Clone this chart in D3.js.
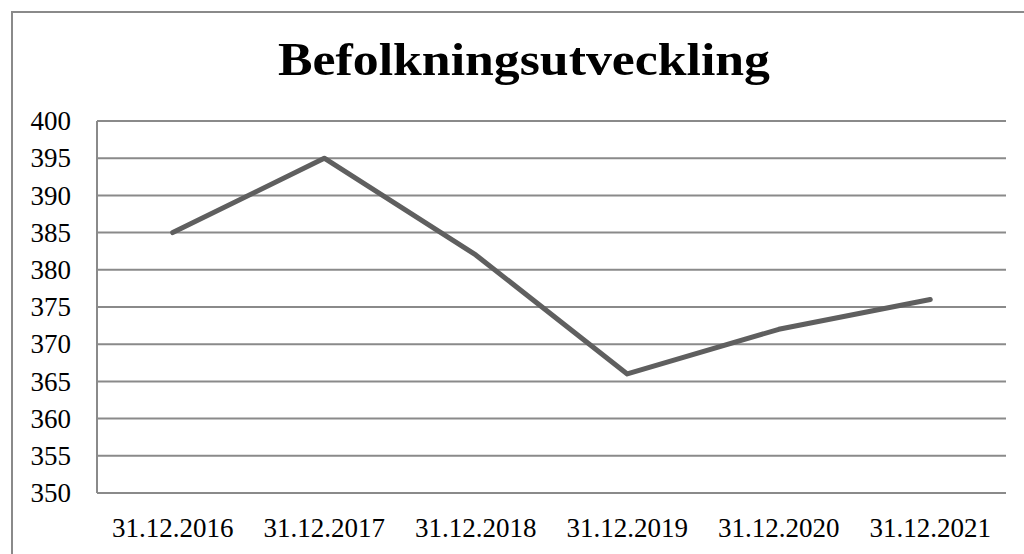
<!DOCTYPE html>
<html>
<head>
<meta charset="utf-8">
<script src="https://cdn.jsdelivr.net/npm/d3@7"></script>
<style>
  html, body { margin: 0; padding: 0; background: #fff; }
  svg { display: block; }
</style>
</head>
<body>
<div class="chart"></div>
<script>
const title = "Befolkningsutveckling";
const categories = ["31.12.2016", "31.12.2017", "31.12.2018", "31.12.2019", "31.12.2020", "31.12.2021"];
const values = [385, 395, 382, 366, 372, 376];
const yTicks = [350, 355, 360, 365, 370, 375, 380, 385, 390, 395, 400];

const dimensions = {
  width: 1024,
  height: 554,
  margin: { left: 97, right: 18, top: 121, bottom: 61 }
};

const fontFamily = "'Liberation Serif', 'Times New Roman', serif";

const svg = d3.select(".chart").append("svg")
  .attr("width", dimensions.width)
  .attr("height", dimensions.height);

// outer frame (runs off the right and bottom edge)
svg.append("path")
  .attr("d", "M12,600 V12 H1030")
  .attr("fill", "none")
  .attr("stroke", "#8a8a8a")
  .attr("stroke-width", 2);

svg.append("text")
  .attr("x", 524)
  .attr("y", 75)
  .attr("text-anchor", "middle")
  .attr("textLength", 492)
  .attr("lengthAdjust", "spacingAndGlyphs")
  .style("font", `bold 46px ${fontFamily}`)
  .text(title);

const x = d3.scaleBand()
  .domain(categories)
  .range([dimensions.margin.left, dimensions.width - dimensions.margin.right]);

const y = d3.scaleLinear()
  .domain([350, 400])
  .range([dimensions.height - dimensions.margin.bottom, dimensions.margin.top]);

// gridlines
svg.append("g")
  .selectAll("line")
  .data(yTicks)
  .join("line")
  .attr("x1", dimensions.margin.left)
  .attr("x2", dimensions.width - dimensions.margin.right)
  .attr("y1", d => y(d))
  .attr("y2", d => y(d))
  .attr("stroke", "#8a8a8a")
  .attr("stroke-width", 2);

// left axis line
svg.append("line")
  .attr("x1", dimensions.margin.left)
  .attr("x2", dimensions.margin.left)
  .attr("y1", y(400))
  .attr("y2", y(350))
  .attr("stroke", "#8a8a8a")
  .attr("stroke-width", 2);

svg.append("g")
  .attr("transform", `translate(${dimensions.margin.left},0)`)
  .call(d3.axisLeft(y).tickValues(yTicks).tickSize(0).tickPadding(26))
  .call(g => g.select(".domain").remove())
  .call(g => g.selectAll(".tick text")
    .attr("fill", "#000")
    .style("font", `27px ${fontFamily}`));

svg.append("g")
  .attr("transform", `translate(0,${y(350)})`)
  .call(d3.axisBottom(x).tickSize(0).tickPadding(25))
  .call(g => g.select(".domain").remove())
  .call(g => g.selectAll(".tick text")
    .attr("fill", "#000")
    .style("font", `27px ${fontFamily}`));

const line = d3.line()
  .x((d, i) => x(categories[i]) + x.bandwidth() / 2)
  .y(d => y(d));

svg.append("path")
  .attr("d", line(values))
  .attr("fill", "none")
  .attr("stroke", "#5f5f5f")
  .attr("stroke-width", 5)
  .attr("stroke-linejoin", "round")
  .attr("stroke-linecap", "round");
</script>
</body>
</html>
